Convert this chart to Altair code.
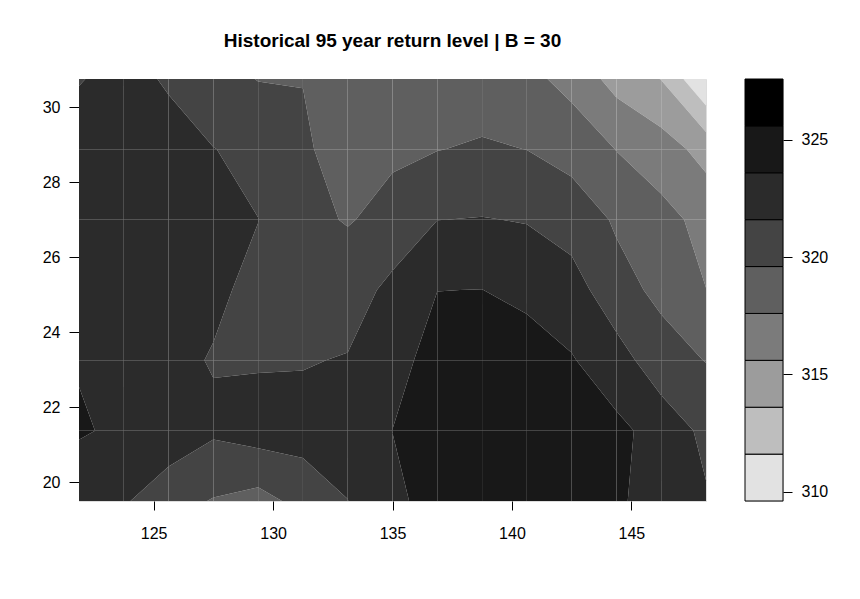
import altair as alt
import pandas as pd

# grid (longitude / latitude) and return-level values
lon = [121.875, 123.75, 125.625, 127.5, 129.375, 131.25, 133.125, 135.0,
       136.875, 138.75, 140.625, 142.5, 144.375, 146.25, 148.125]
lat = [19.5, 21.375, 23.25, 25.125, 27.0, 28.875, 30.75]

z_19_5 = [322.26, 321.82, 320.35, 319.48, 318.9, 320.22, 321.58, 323.1, 324.45, 324.8, 324.9, 324.7, 323.87, 322.8, 321.82]
z_21_4 = [323.8, 323.24, 322.9, 321.9, 322.5, 322.48, 322.3, 323.62, 324.6, 325.0, 325.0, 324.6, 324.0, 322.97, 321.07]
z_23_3 = [323.48, 323.2, 322.0, 321.5, 321.4, 321.45, 321.74, 322.8, 324.47, 324.8, 324.76, 323.72, 322.57, 320.25, 319.55]
z_25_1 = [322.8, 323.0, 322.8, 321.89, 321.2, 320.8, 320.5, 322.19, 323.58, 323.62, 323.0, 322.6, 320.14, 319.25, 317.62]
z_27_0 = [322.7, 323.0, 322.8, 322.2, 321.62, 320.0, 319.5, 320.06, 321.58, 321.68, 321.5, 320.54, 319.41, 318.23, 317.0]
z_28_9 = [322.5, 322.8, 322.3, 321.65, 321.0, 320.0, 318.4, 319.37, 319.55, 319.82, 319.58, 319.0, 317.55, 316.52, 314.9]
z_30_8 = [321.5, 322.2, 321.4, 320.2, 319.55, 319.54, 318.8, 318.7, 318.6, 318.6, 318.2, 316.9, 314.9, 313.55, 309.6]
z_rows = [z_19_5, z_21_4, z_23_3, z_25_1, z_27_0, z_28_9, z_30_8]

levels = [309.6, 311.6, 313.6, 315.6, 317.6, 319.6, 321.6, 323.6, 325.6, 327.6]
grays = ["#e2e2e2", "#bebebe", "#9c9c9c", "#7b7b7b", "#5f5f5f",
         "#444444", "#2b2b2b", "#181818", "#000000"]
key_ticks = [310, 315, 320, 325]
x_ticks = [125, 130, 135, 140, 145]
y_ticks = [20, 22, 24, 26, 28, 30]
title = "Historical 95 year return level | B = 30"


def band_polygon(corners, lo, hi, last):
    def inside(v):
        return lo <= v <= hi if last else lo <= v < hi
    pts = []
    n = len(corners)
    for k in range(n):
        x0, y0, z0 = corners[k]
        x1, y1, z1 = corners[(k + 1) % n]
        if inside(z0):
            pts.append((x0, y0))
        cr = []
        for lev in (lo, hi):
            if (z0 - lev) * (z1 - lev) < 0:
                t = (lev - z0) / (z1 - z0)
                cr.append((t, x0 + t * (x1 - x0), y0 + t * (y1 - y0)))
        cr.sort()
        pts.extend((px, py) for _, px, py in cr)
    return pts if len(pts) >= 3 else None


rows = []
pid = 0
for j in range(len(lat) - 1):
    for i in range(len(lon) - 1):
        corners = [
            (lon[i], lat[j], z_rows[j][i]),
            (lon[i + 1], lat[j], z_rows[j][i + 1]),
            (lon[i + 1], lat[j + 1], z_rows[j + 1][i + 1]),
            (lon[i], lat[j + 1], z_rows[j + 1][i]),
        ]
        for b in range(len(levels) - 1):
            poly = band_polygon(corners, levels[b], levels[b + 1], b == len(levels) - 2)
            if poly is None:
                continue
            for k, (px, py) in enumerate(poly):
                rows.append({"poly": pid, "ord": k, "lon": px, "lat": py, "band": b})
            pid += 1

poly_df = pd.DataFrame(rows)
key_df = pd.DataFrame({
    "band": list(range(len(levels) - 1)),
    "lo": levels[:-1],
    "hi": levels[1:],
    "k": ["key"] * (len(levels) - 1),
})

color_scale = alt.Scale(domain=list(range(len(grays))), range=grays)
FONT = "Liberation Sans"

main = alt.Chart(poly_df).mark_line(filled=True, interpolate="linear").encode(
    x=alt.X("lon:Q", title=None,
            scale=alt.Scale(domain=[lon[0], lon[-1]], nice=False, zero=False),
            axis=alt.Axis(values=x_ticks, grid=False, domain=False, tickSize=9,
                          labelPadding=15, labelFontSize=16, labelFont=FONT,
                          labelColor="black", tickColor="black")),
    y=alt.Y("lat:Q", title=None,
            scale=alt.Scale(domain=[lat[0], lat[-1]], nice=False, zero=False),
            axis=alt.Axis(values=y_ticks, grid=False, domain=False, tickSize=10,
                          labelPadding=9, labelFontSize=16, labelFont=FONT,
                          labelColor="black", tickColor="black", minExtent=70)),
    detail="poly:N",
    order="ord:Q",
    color=alt.Color("band:O", scale=color_scale, legend=None),
).properties(
    width=627, height=422,
    title=alt.TitleParams(title, fontSize=19, font=FONT, fontWeight="bold",
                          anchor="middle", offset=28, color="black"),
)

key = alt.Chart(key_df).mark_rect(stroke="black", strokeWidth=1).encode(
    x=alt.X("k:N", title=None, axis=None,
            scale=alt.Scale(paddingInner=0, paddingOuter=0)),
    y=alt.Y("lo:Q", title=None,
            scale=alt.Scale(domain=[levels[0], levels[-1]], nice=False, zero=False),
            axis=alt.Axis(orient="right", values=key_ticks, grid=False, domain=False,
                          tickSize=9, labelPadding=9, labelFontSize=16, labelFont=FONT,
                          labelColor="black", tickColor="black")),
    y2="hi:Q",
    color=alt.Color("band:O", scale=color_scale, legend=None),
).properties(width=38, height=422)

chart = alt.hconcat(main, key, spacing=37).resolve_scale(
    x="independent", y="independent", color="shared"
).properties(
    padding={"left": 0, "top": 23, "right": 0, "bottom": 0}
).configure_view(stroke="black", strokeWidth=1).configure(background="white")

chart.save("out.html", embed_options={"renderer": "svg", "actions": False})
